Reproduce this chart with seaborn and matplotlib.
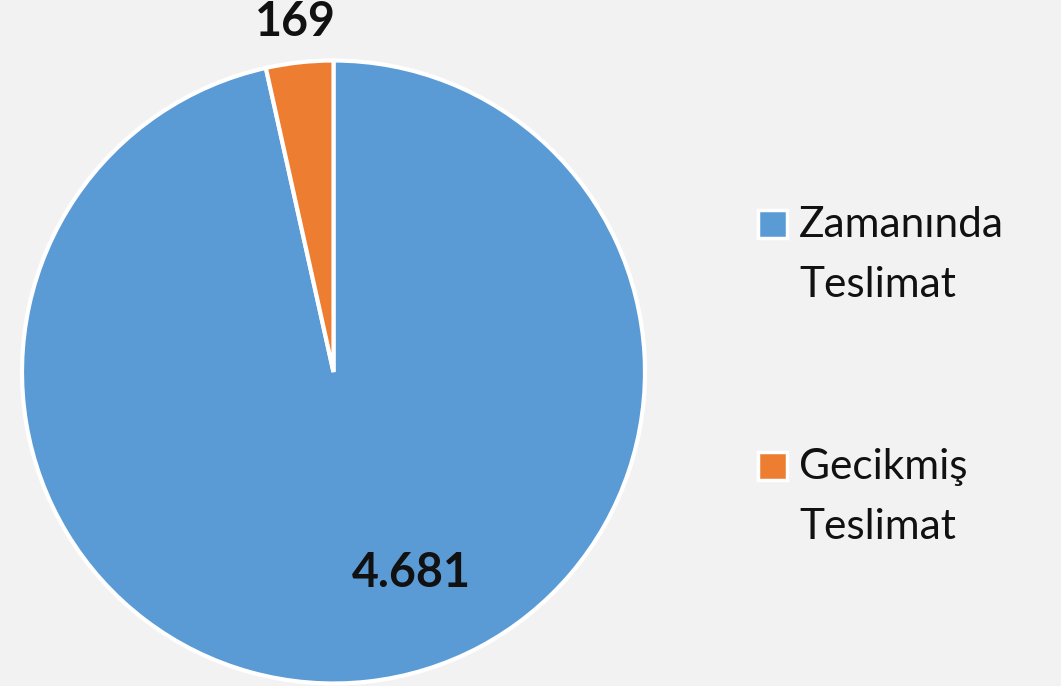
import matplotlib
matplotlib.use("Agg")
import matplotlib.pyplot as plt
import seaborn as sns
from matplotlib.patches import Rectangle

categories = ["Zamanında\nTeslimat", "Gecikmiş\nTeslimat"]
values = [4681, 169]
value_labels = ["4.681", "169"]
colors = ["#5B9BD5", "#ED7D31"]

sns.set_theme(style="white")
plt.rcParams['font.family'] = ['Lato', 'DejaVu Sans']

bg = "#F2F2F2"
fig = plt.figure(figsize=(10.61, 6.86), dpi=100, facecolor=bg)
W, H = 1061, 686
cx, cy, r = 333.5, 372, 311.5
ax = fig.add_axes([(cx - r) / W, (H - cy - r) / H, 2 * r / W, 2 * r / H])
ax.set_facecolor(bg)

wedges, _ = ax.pie(values, colors=colors, startangle=90, counterclock=False,
                   radius=1.0, wedgeprops=dict(edgecolor="white", linewidth=3))
ax.set_xlim(-1, 1)
ax.set_ylim(-1, 1)
ax.set_aspect("equal")
ax.axis("off")

# value labels
ax.text(0.25, -0.645, value_labels[0], ha="center", va="center",
        fontsize=33.5, fontweight="bold", color="#111111")
ax.text(-0.122, 1.125, value_labels[1], ha="center", va="center",
        fontsize=33.5, fontweight="bold", color="#111111", clip_on=False)

# legend (manual, handle aligned with first line)
entry_top = [210, 452]
for cat, col, top in zip(categories, colors, entry_top):
    fig.patches.append(Rectangle((758 / W, 1 - (top + 28) / H), 29 / W, 28 / H,
                                 transform=fig.transFigure, facecolor=col,
                                 edgecolor="white", linewidth=2.5))
    for j, line in enumerate(cat.split("\n")):
        fig.text(799 / W, 1 - (top + 27 + 60 * j) / H, line, ha="left",
                 va="baseline", fontsize=30.5, color="#111111")

fig.savefig("out.png", dpi=100, facecolor=bg)
